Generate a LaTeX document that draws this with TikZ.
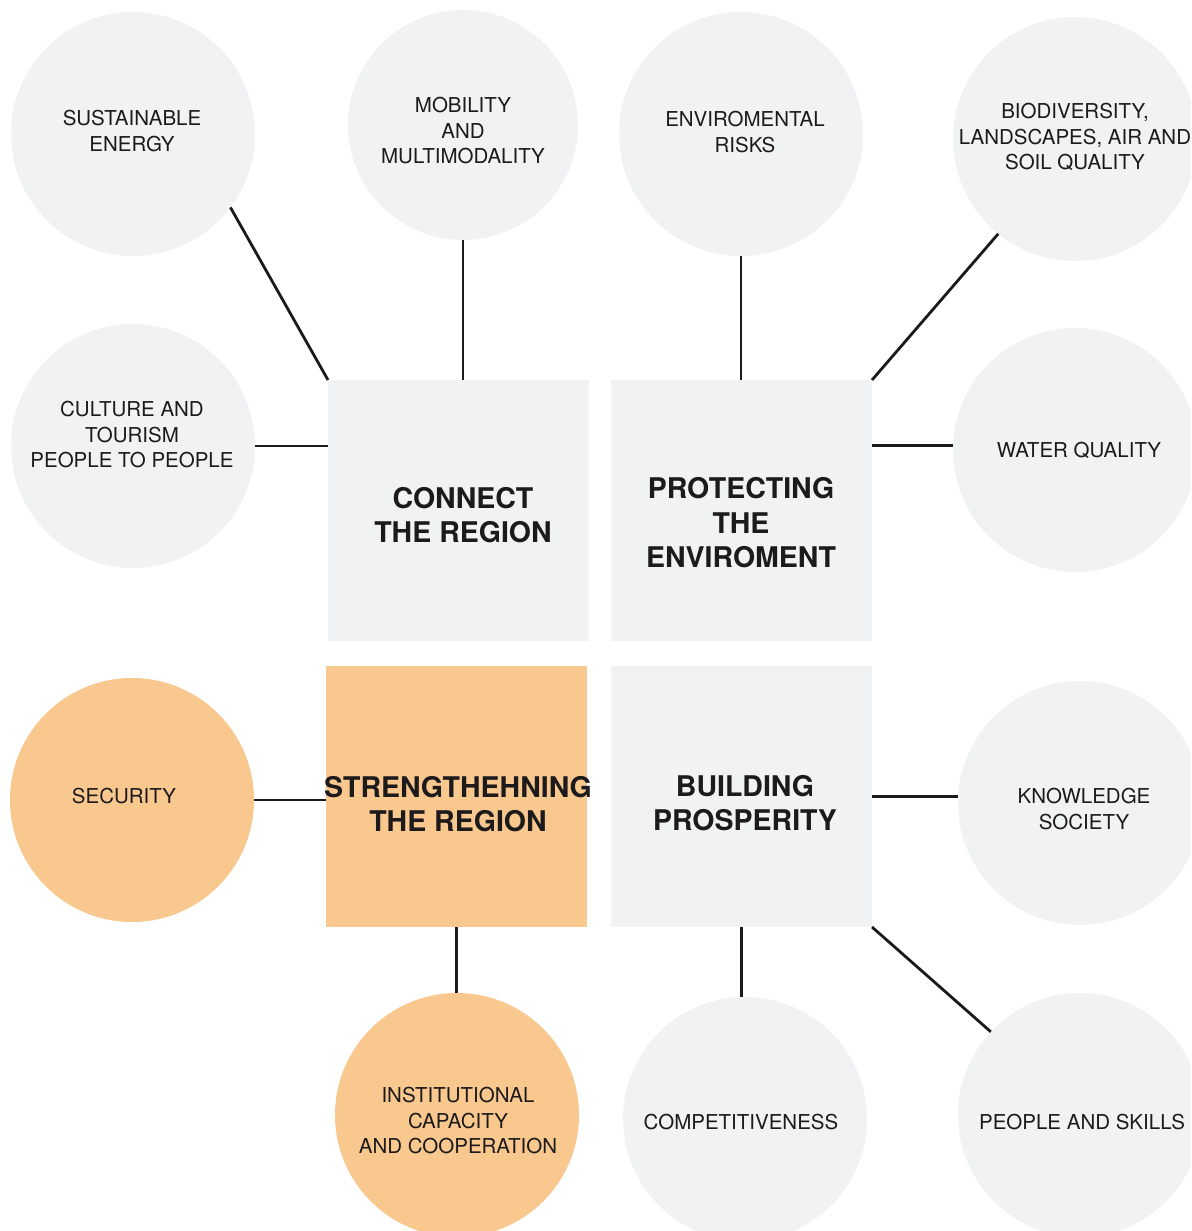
\documentclass[tikz,border=0pt]{standalone}
\usepackage{fontspec}
\setmainfont{TeX Gyre Heros}
\definecolor{bubble}{HTML}{F1F2F4}
\definecolor{accent}{HTML}{F9C88F}
\definecolor{ink}{HTML}{1C1A1B}
\definecolor{wire}{HTML}{1A1A1A}
\tikzset{
  bub/.style={circle,fill=bubble,draw=none,minimum size=244pt,inner sep=0pt,outer sep=0pt},
  bubo/.style={bub,fill=accent},
  sq/.style={rectangle,fill=bubble,draw=none,minimum size=261pt,inner sep=0pt,outer sep=0pt},
  sqo/.style={sq,fill=accent},
  small/.style={text=ink,align=center,inner sep=0pt,font=\fontsize{20.5}{25.5}\selectfont},
  big/.style={text=ink,align=center,inner sep=0pt,font=\fontsize{28.5}{34.5}\selectfont\bfseries},
  link/.style={draw=wire,line width=2.8pt}
}
\begin{document}
\begin{tikzpicture}[x=1pt,y=-1pt]
\useasboundingbox (0,0) rectangle (1191,1231);
\clip (0,0) rectangle (1191,1231);
% squares
\node[sq]  (connect)  at (458.5,510.5) {};
\node[sq]  (protect)  at (741.5,510.5) {};
\node[sqo] (strength) at (456.5,796.5) {};
\node[sq]  (build)    at (741.5,796.5) {};
% circles
\node[bub] (se)    at (133,134) {};
\node[bub,minimum size=230pt] (mob) at (463,125) {};
\node[bub] (env)   at (741,134) {};
\node[bub] (bio)   at (1075,139) {};
\node[bub] (cult)  at (133,446) {};
\node[bub] (water) at (1075,450) {};
\node[bubo] (sec)  at (132,800) {};
\node[bub] (know)  at (1080,803) {};
\node[bubo] (inst) at (457,1115) {};
\node[bub] (comp)  at (745,1119) {};
\node[bub] (ppl)   at (1080,1115) {};
% connectors
\draw[link] (se.-37) -- (connect.north west);
\draw[link] (mob.south) -- (mob.south |- connect.north);
\draw[link] (env.south) -- (env.south |- protect.north);
\draw[link] (bio.-129) -- (protect.north east);
\draw[link] (cult.east) -- (cult.east -| connect.west);
\draw[link] (protect.east |- water.178) -- (water.178);
\draw[link] (sec.east) -- (sec.east -| strength.west);
\draw[link] (strength.south) -- (strength.south |- inst.north);
\draw[link] (build.south) -- (build.south |- comp.north);
\draw[link] (build.east) -- (build.east -| know.west);
\draw[link] (build.south east) -- (ppl.137);
% texts
\node[small] (tse)    at (132,131)  {SUSTAINABLE\\ENERGY};
\node[small] (tmob)   at (463,131)  {MOBILITY\\AND\\MULTIMODALITY};
\node[small] (tenv)   at (745,132)  {ENVIROMENTAL\\RISKS};
\node[small] (tbio)   at (1075,137) {BIODIVERSITY,\\LANDSCAPES, AIR AND\\SOIL QUALITY};
\node[small] (tcult)  at (132,435)  {CULTURE AND\\TOURISM\\PEOPLE TO PEOPLE};
\node[small] (twater) at (1079,450) {WATER QUALITY};
\node[small] (tsec)   at (124,796)  {SECURITY};
\node[small] (tknow)  at (1084,809) {KNOWLEDGE\\SOCIETY};
\node[small] (tinst)  at (458,1121) {INSTITUTIONAL\\CAPACITY\\AND COOPERATION};
\node[small] (tcomp)  at (741,1122) {COMPETITIVENESS};
\node[small] (tppl)   at (1082,1122) {PEOPLE AND SKILLS};
\node[big] (tconnect)  at (463,515) {CONNECT\\THE REGION};
\node[big] (tprotect)  at (741,523) {PROTECTING\\THE\\ENVIROMENT};
\node[big] (tstrength) at (458,804) {STRENGTHEHNING\\THE REGION};
\node[big] (tbuild)    at (745,803) {BUILDING\\PROSPERITY};
\end{tikzpicture}
\end{document}
